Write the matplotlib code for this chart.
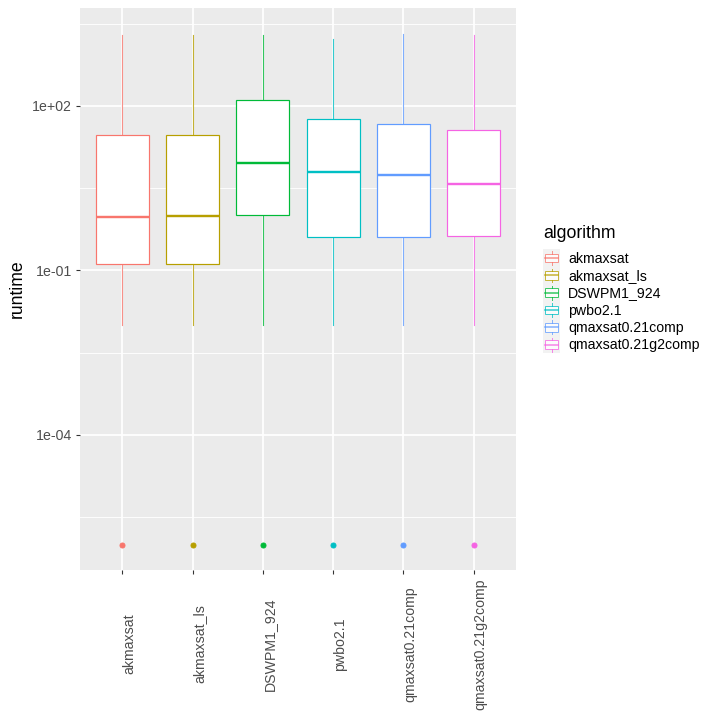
import numpy as np
import matplotlib
matplotlib.use("Agg")
import matplotlib.pyplot as plt
from matplotlib.patches import Rectangle, Patch
from matplotlib.lines import Line2D
from matplotlib.ticker import FixedLocator
from matplotlib.legend_handler import HandlerBase

plt.rcParams['font.family'] = ['Liberation Sans', 'DejaVu Sans']

algorithms = ['akmaxsat', 'akmaxsat_ls', 'DSWPM1_924', 'pwbo2.1',
              'qmaxsat0.21comp', 'qmaxsat0.21g2comp']
colours = ['#F8766D', '#B79F00', '#00BA38', '#00BFC4', '#619CFF', '#F564E3']

# box stats (seconds)
whisker_low = [0.01, 0.01, 0.01, 0.01, 0.01, 0.01]
q1 = [0.13, 0.13, 1.03, 0.40, 0.41, 0.42]
median = [0.95, 0.97, 9.0, 6.3, 5.4, 3.8]
q3 = [29.2, 29.2, 130.0, 58.0, 47.0, 36.0]
whisker_high = [1970, 1970, 1970, 1670, 2050, 1950]
outliers = [1e-6, 1e-6, 1e-6, 1e-6, 1e-6, 1e-6]

y_ticks = [1e-4, 1e-1, 1e2]
y_tick_labels = ['1e-04', '1e-01', '1e+02']
y_minor = [10 ** -5.5, 10 ** -2.5, 10 ** 0.5, 10 ** 3.5]


class BoxKeyHandler(HandlerBase):
    # ggplot-like boxplot key: grey square, whiskers, box, median
    def legend_artist(self, legend, orig_handle, fontsize, handlebox):
        x0, y0 = -handlebox.xdescent, -handlebox.ydescent
        w, h = handlebox.width, handlebox.height
        col = orig_handle.get_edgecolor()
        t = handlebox.get_transform()
        bg = Rectangle((x0, y0), w, h, facecolor='#F2F2F2', edgecolor='none', transform=t)
        box = Rectangle((x0 + 0.125 * w, y0 + 0.25 * h), 0.75 * w, 0.5 * h,
                        facecolor='white', edgecolor=col, lw=1.0, alpha=0.75, transform=t)
        lo = Line2D([x0 + w / 2] * 2, [y0 + 0.1 * h, y0 + 0.25 * h], color=col, lw=1.0,
                    alpha=0.75, transform=t)
        hi = Line2D([x0 + w / 2] * 2, [y0 + 0.75 * h, y0 + 0.9 * h], color=col, lw=1.0,
                    alpha=0.75, transform=t)
        med = Line2D([x0 + 0.125 * w, x0 + 0.875 * w], [y0 + 0.5 * h] * 2, color=col, lw=1.6,
                     alpha=0.75, transform=t)
        for a in (bg, box, lo, hi, med):
            handlebox.add_artist(a)
        return bg


fig = plt.figure(figsize=(10, 10), dpi=72)
ax = fig.add_axes([80 / 720, 150 / 720, 436 / 720, 562 / 720])
ax.set_facecolor('#EBEBEB')
for s in ax.spines.values():
    s.set_visible(False)

stats = []
for i in range(len(algorithms)):
    stats.append(dict(med=median[i], q1=q1[i], q3=q3[i], whislo=whisker_low[i],
                      whishi=whisker_high[i], fliers=[outliers[i]]))

positions = np.arange(1, len(algorithms) + 1)
bp = ax.bxp(stats, positions=positions, widths=0.75, showcaps=False, patch_artist=True)
for i, c in enumerate(colours):
    bp['boxes'][i].set(facecolor='white', edgecolor=c, lw=1.2, zorder=3)
    bp['medians'][i].set(color=c, lw=2.4, zorder=4)
    bp['fliers'][i].set(marker='o', markersize=5, markerfacecolor=c, markeredgecolor=c, zorder=3)
    for wl in bp['whiskers'][2 * i:2 * i + 2]:
        wl.set(color=c, lw=1.1, alpha=0.8, zorder=2)

ax.set_yscale('log')
ax.set_ylim(10 ** -6.463, 10 ** 3.787)
ax.set_xlim(0.4, 6.6)
ax.set_yticks(y_ticks)
ax.set_yticklabels(y_tick_labels)
ax.yaxis.set_minor_locator(FixedLocator(y_minor))
ax.set_xticks(positions)
ax.set_xticklabels(algorithms, rotation=90, ha='left', va='center')

ax.tick_params(which='major', length=4.4, width=1.1, color='#333333',
               labelcolor='#4D4D4D', labelsize=14.08)
ax.tick_params(axis='y', which='major', pad=3.5)
ax.tick_params(axis='x', which='major', pad=69.6)
ax.tick_params(which='minor', length=0)

ax.grid(which='major', color='white', lw=1.8)
ax.grid(which='minor', axis='y', color='white', lw=0.9)
ax.set_axisbelow(True)

ax.set_ylabel('runtime', fontsize=17.6, color='black', va='center')
ax.yaxis.set_label_coords(-0.1445, 0.5)

# legend: title drawn on its own, keys as ggplot boxplot glyphs
fig.text(543 / 720, 1 - 234 / 720, 'algorithm', fontsize=17.6, ha='left', va='center')
handles = [Patch(edgecolor=c, facecolor='white') for c in colours]
leg = fig.legend(handles, algorithms, loc='upper left',
                 bbox_to_anchor=(543 / 720, 1 - 249.5 / 720),
                 handler_map={Patch: BoxKeyHandler()},
                 frameon=False, fontsize=14.08,
                 handlelength=17.3 / 14.08, handleheight=1.513,
                 labelspacing=0.0, handletextpad=0.57, borderpad=0.0,
                 borderaxespad=0.0)

fig.savefig('out.png', dpi=72)
